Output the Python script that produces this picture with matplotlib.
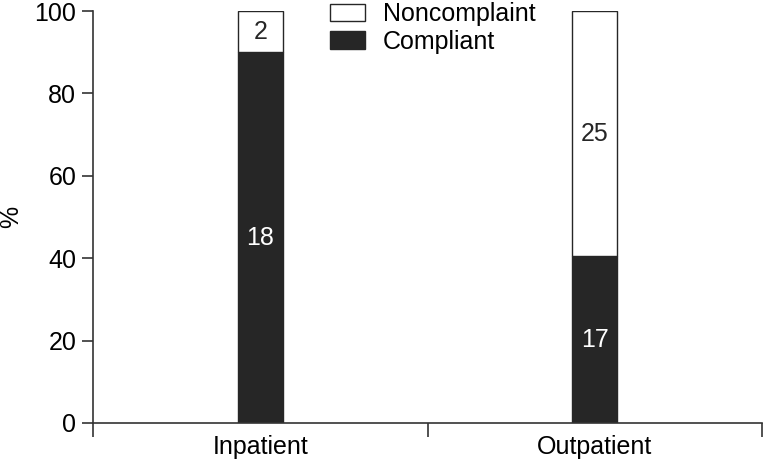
import matplotlib
matplotlib.use("Agg")
import matplotlib.pyplot as plt
from matplotlib.patches import Patch

# données : nombre de patients par groupe
groupes = ["Inpatient", "Outpatient"]
compliant = [18, 17]
noncompliant = [2, 25]

total = [c + n for c, n in zip(compliant, noncompliant)]
pct_c = [100 * c / t for c, t in zip(compliant, total)]
pct_n = [100 * n / t for n, t in zip(noncompliant, total)]

plt.rcParams["font.family"] = ["Liberation Sans", "DejaVu Sans"]
plt.rcParams["font.size"] = 18
sombre = "#262626"
trait = "#333333"

fig = plt.figure(figsize=(7.63, 4.63), dpi=100)
ax = fig.add_axes([0.1219, 0.0864, 0.877, 0.8898])

x = [0.5, 1.5]
largeur = 0.134
ax.bar(x, pct_c, largeur, color=sombre, edgecolor=sombre, linewidth=1)
ax.bar(x, pct_n, largeur, bottom=pct_c, color="white", edgecolor=sombre, linewidth=1)

# étiquettes dans les barres
for xi, c, n, pc, pn in zip(x, compliant, noncompliant, pct_c, pct_n):
    ax.text(xi, pc / 2, str(c), ha="center", va="center", color="white", fontsize=18)
    ax.text(xi, pc + pn / 2, str(n), ha="center", va="center", color=sombre, fontsize=18)

ax.set_xlim(0, 2)
ax.set_ylim(0, 100)
ax.set_yticks([0, 20, 40, 60, 80, 100])
ax.set_xticks([0, 1, 2])
ax.set_xticklabels([])
ax.set_xticks(x, minor=True)
ax.set_xticklabels(groupes, minor=True)
ax.tick_params(axis="x", which="minor", length=0, pad=9)
ax.tick_params(axis="x", which="major", length=10, width=1.2, color=trait)
ax.tick_params(axis="y", length=8, width=1.2, color=trait, pad=4)
ax.set_ylabel("%", labelpad=8)

for s in ["top", "right"]:
    ax.spines[s].set_visible(False)
for s in ["left", "bottom"]:
    ax.spines[s].set_color(trait)
    ax.spines[s].set_linewidth(1.2)

poignees = [Patch(facecolor="white", edgecolor=sombre, label="Noncomplaint"),
            Patch(facecolor=sombre, edgecolor=sombre, label="Compliant")]
fig.legend(handles=poignees, loc="upper left", bbox_to_anchor=(0.42, 1.017),
           frameon=False, fontsize=18, handlelength=1.4, handleheight=0.7,
           handletextpad=0.7, labelspacing=0.15, borderaxespad=0)

fig.savefig("out.png", dpi=100)
